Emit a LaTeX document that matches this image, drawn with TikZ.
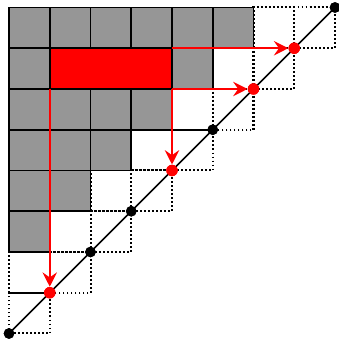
\documentclass[tikz,border=0pt]{standalone}
\usetikzlibrary{arrows.meta}
\definecolor{cellgray}{RGB}{150,150,150}
\tikzset{
  dotcell/.style={draw=black, line width=1.4pt, dash pattern=on 1.3pt off 1.5pt},
  graycell/.style={fill=cellgray, draw=black, line width=1.2pt},
  redcell/.style={fill=red, draw=black, line width=1.2pt},
  diagline/.style={draw=black, line width=1.2pt},
  redarrow/.style={draw=red, line width=1.4pt, -{Stealth[length=10pt,width=10pt,inset=3.5pt]}},
  bdot/.style={circle, fill=black, inner sep=0pt, minimum size=0.26cm},
  rdot/.style={circle, fill=red, inner sep=0pt, minimum size=0.28cm}
}
\begin{document}
\begin{tikzpicture}[x=1cm,y=1cm]
\useasboundingbox (-0.221,-0.209) rectangle (8.098,8.184);
% dotted staircase cells
\foreach \c in {0,...,7}{
  \draw[dotcell] (\c,\c) rectangle (\c+1,\c+1);
}
\foreach \c in {0,...,6}{
  \draw[dotcell] (\c,\c+1) rectangle (\c+1,\c+2);
}
% gray cells
\foreach \c in {0,...,5}{
  \pgfmathtruncatemacro{\ys}{\c+2}
  \foreach \y in {\ys,...,7}{
    \draw[graycell] (\c,\y) rectangle (\c+1,\y+1);
  }
}
% red block
\draw[redcell] (1,6) rectangle (4,7);
% diagonal points
\node[bdot] (d0) at (0,0) {};
\node[rdot] (d1) at (1,1) {};
\node[bdot] (d2) at (2,2) {};
\node[bdot] (d3) at (3,3) {};
\node[rdot] (d4) at (4,4) {};
\node[bdot] (d5) at (5,5) {};
\node[rdot] (d6) at (6,6) {};
\node[rdot] (d7) at (7,7) {};
\node[bdot] (d8) at (8,8) {};
\draw[diagline] (d0.center) -- (d8.center);
% redraw dots above line
\node[bdot] at (d0) {};
\node[rdot] at (d1) {};
\node[bdot] at (d2) {};
\node[bdot] at (d3) {};
\node[rdot] at (d4) {};
\node[bdot] at (d5) {};
\node[rdot] at (d6) {};
\node[rdot] at (d7) {};
\node[bdot] at (d8) {};
% arrow starts
\coordinate (s1) at (4,7);
\coordinate (s2) at (4,6);
\coordinate (s3) at (1,6);
\draw[redarrow] (s1) -- (d7);
\draw[redarrow] (s2) -- (d6);
\draw[redarrow] (s2) -- (d4);
\draw[redarrow] (s3) -- (d1);
\end{tikzpicture}
\end{document}
